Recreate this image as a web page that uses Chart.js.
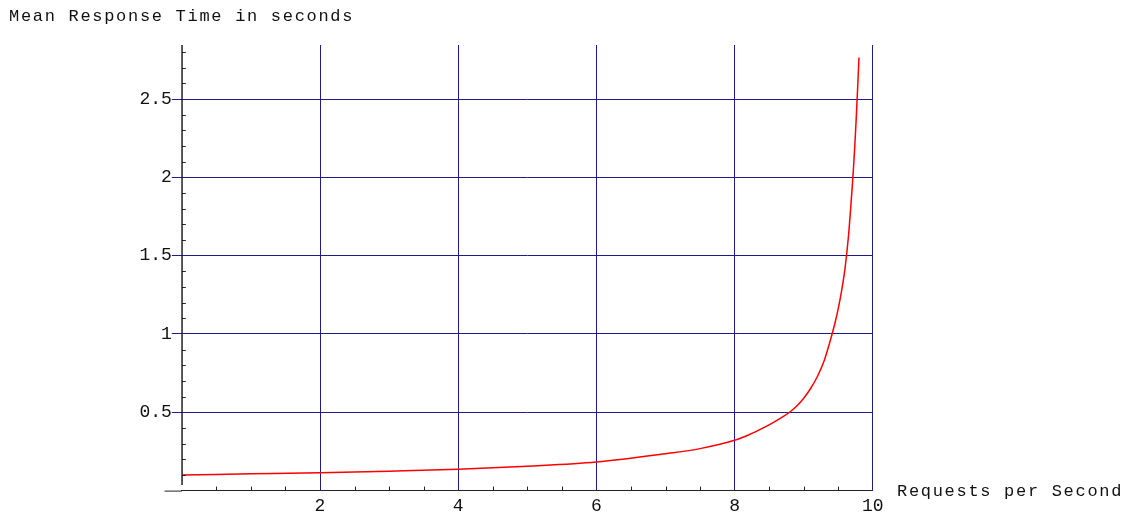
<!DOCTYPE html>
<html>
<head>
<meta charset="utf-8">
<script src="https://cdn.jsdelivr.net/npm/chart.js@4.4.1/dist/chart.umd.min.js"></script>
<style>
  html, body { margin: 0; padding: 0; background: #ffffff; }
  #wrap { width: 1128px; height: 518px; }
</style>
</head>
<body>
<div id="wrap"><canvas id="responseChart" width="1128" height="518"></canvas></div>
<script>
// requests per second (x) and mean response time in seconds (y)
const rate = [0, 1, 2, 3, 4, 5, 6, 7, 7.5, 8, 8.1, 8.2, 8.3, 8.4, 8.5, 8.6, 8.7, 8.8, 8.9, 9, 9.1, 9.2, 9.3, 9.4, 9.45, 9.5, 9.55, 9.6, 9.65, 9.7, 9.72, 9.74, 9.76, 9.78, 9.8];
const responseTime = [0.1, 0.107, 0.114, 0.124, 0.136, 0.156, 0.183, 0.236, 0.268, 0.321, 0.337, 0.355, 0.375, 0.397, 0.42, 0.445, 0.472, 0.502, 0.54, 0.59, 0.652, 0.73, 0.834, 0.982, 1.065, 1.162, 1.28, 1.425, 1.635, 1.925, 2.055, 2.205, 2.375, 2.565, 2.765];

const xTicks = [2, 4, 6, 8, 10];
const xTickLabels = ["2", "4", "6", "8", "10"];
const yTicks = [0.5, 1, 1.5, 2, 2.5];
const yTickLabels = ["0.5", "1", "1.5", "2", "2.5"];
const xMinorTicks = [0.5, 1, 1.5, 2.5, 3, 3.5, 4.5, 5, 5.5, 6.5, 7, 7.5, 8.5, 9, 9.5];
const yMinorTicks = [0.1, 0.2, 0.3, 0.4, 0.6, 0.7, 0.8, 0.9, 1.1, 1.2, 1.3, 1.4, 1.6, 1.7, 1.8, 1.9, 2.1, 2.2, 2.3, 2.4, 2.6, 2.7, 2.8];

const xTitle = "Requests per Second";
const yTitle = "Mean Response Time in seconds";

const gridColor = "#1c1c8a";
const axisColor = "#222222";
const fontFamily = "'Liberation Mono', 'Courier New', monospace";

// Mathematica style extras: axis lines, inward minor ticks, axis titles
const plotExtras = {
  id: "plotExtras",
  afterDatasetsDraw(chart) {
    const ctx = chart.ctx;
    const xs = chart.scales.x;
    const ys = chart.scales.y;
    const y0 = ys.getPixelForValue(0);
    const x0 = xs.getPixelForValue(0);
    ctx.save();
    ctx.strokeStyle = axisColor;

    // y axis line, stops a little above the x axis like the original
    ctx.lineWidth = 1.5;
    ctx.beginPath();
    ctx.moveTo(x0 + 0.25, ys.getPixelForValue(0.035));
    ctx.lineTo(x0 + 0.25, chart.chartArea.top);
    ctx.stroke();

    ctx.lineWidth = 1;
    ctx.beginPath();
    ctx.moveTo(xs.getPixelForValue(-0.25), y0 + 0.5);
    ctx.lineTo(x0, y0 + 0.5);
    xMinorTicks.forEach((v) => {
      const px = Math.round(xs.getPixelForValue(v)) + 0.5;
      ctx.moveTo(px, y0);
      ctx.lineTo(px, y0 - 4);
    });
    yMinorTicks.forEach((v) => {
      const py = Math.round(ys.getPixelForValue(v)) + 0.5;
      ctx.moveTo(x0, py);
      ctx.lineTo(x0 + 4, py);
    });
    ctx.stroke();

    ctx.fillStyle = "#111111";
    ctx.font = "17px " + fontFamily;
    ctx.textBaseline = "alphabetic";
    ctx.textAlign = "left";
    ctx.letterSpacing = "1.7px";
    ctx.fillText(yTitle, 9, 21);
    ctx.fillText(xTitle, 897, 496);
    ctx.restore();
  },
};

new Chart(document.getElementById("responseChart"), {
  type: "line",
  data: {
    datasets: [
      {
        data: rate.map((r, i) => ({ x: r, y: responseTime[i] })),
        borderColor: "#ff0000",
        borderWidth: 1.5,
        pointRadius: 0,
        fill: false,
        cubicInterpolationMode: "monotone",
      },
    ],
  },
  options: {
    responsive: false,
    animation: false,
    devicePixelRatio: 1,
    layout: { padding: { left: 0, right: 255.2, top: 45, bottom: 0 } },
    plugins: {
      legend: { display: false },
      tooltip: { enabled: false },
    },
    scales: {
      x: {
        type: "linear",
        min: 0,
        max: 10,
        afterBuildTicks: (scale) => {
          scale.ticks = xTicks.map((v) => ({ value: v }));
        },
        afterFit: (scale) => {
          scale.height = 27.4;
        },
        grid: { color: gridColor, lineWidth: 1, drawTicks: false },
        border: { display: true, color: axisColor, width: 1 },
        ticks: {
          autoSkip: false,
          maxRotation: 0,
          padding: 5,
          color: "#111111",
          font: { family: fontFamily, size: 18 },
          callback: (value) => xTickLabels[xTicks.indexOf(value)],
        },
      },
      y: {
        type: "linear",
        min: 0,
        max: 2.845,
        afterBuildTicks: (scale) => {
          scale.ticks = yTicks.map((v) => ({ value: v }));
        },
        afterFit: (scale) => {
          scale.width = 181.8;
        },
        grid: { color: gridColor, lineWidth: 1, drawTicks: true, tickLength: 10, tickColor: gridColor },
        border: { display: false },
        ticks: {
          padding: 0,
          color: "#111111",
          font: { family: fontFamily, size: 18 },
          callback: (value) => yTickLabels[yTicks.indexOf(value)],
        },
      },
    },
  },
  plugins: [plotExtras],
});
</script>
</body>
</html>
